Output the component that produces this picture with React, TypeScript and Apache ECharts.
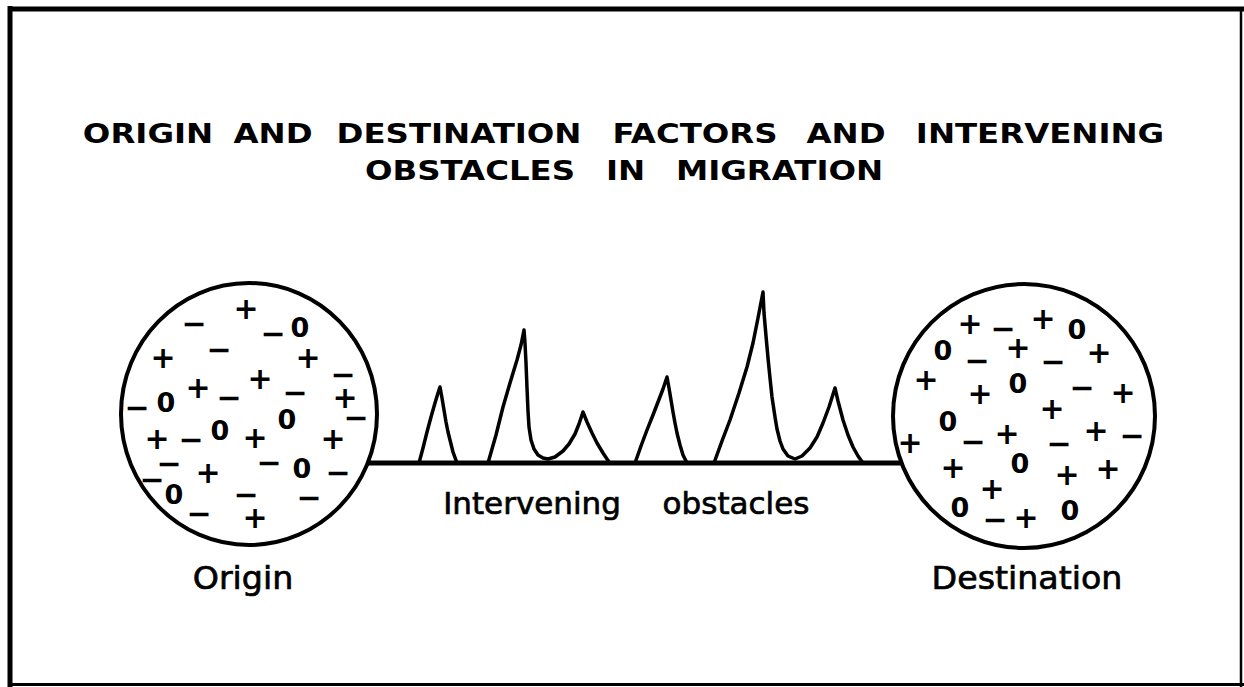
import React, { useEffect, useRef } from "react";
import * as echarts from "echarts";

// Diagram units: x = distance along the migration path, y = elevation above the path line.
const pathLine: number[][] = [[362, 0], [902, 0]];

// Obstacles (distance, elevation)
const obstacleA: number[][] = [
  [419, 0], [423, 15], [427, 31], [431, 46], [435, 60], [438, 70], [440, 76],
  [442, 65], [444, 53], [446, 41], [448, 31], [450, 23], [453, 11], [457, 0],
];
const obstacleB: number[][] = [
  [488, 0], [496, 28], [503, 56], [510, 80], [517, 103], [521, 118], [524, 133],
  [525, 120], [526, 100], [527, 75], [528, 52], [529, 36], [531, 23], [534, 14], [538, 8],
  [543, 5], [548, 4], [555, 6], [563, 12], [569, 19], [575, 29], [579, 39], [583, 51],
  [587, 41], [592, 30], [597, 20], [603, 10], [607, 4], [610, 0],
];
const obstacleC: number[][] = [
  [635, 0], [641, 17], [647, 33], [653, 48], [658, 61], [663, 74], [667, 86],
  [669, 75], [671, 63], [673, 51], [675, 40], [677, 30], [680, 18], [683, 8], [687, 0],
];
const obstacleD: number[][] = [
  [714, 0], [722, 22], [730, 43], [739, 70], [747, 96], [753, 120], [758, 145], [763, 171],
  [764, 150], [766, 127], [768, 105], [770, 85], [772, 66], [775, 46], [777, 34], [780, 22],
  [783, 14], [788, 7], [795, 4], [802, 7], [810, 15], [817, 26], [823, 40], [829, 56], [835, 75],
  [838, 62], [843, 43], [848, 28], [853, 16], [858, 7], [863, 0],
];

// Areas: [centre distance, centre elevation, half width, half height]
const areaNames = ["Origin", "Destination"];
const areas: number[][] = [[249, 49, 128, 131], [1024, 47, 131, 132]];

// Factors inside the areas (distance, elevation)
const originPlus: number[][] = [
  [246, 155], [163, 106], [308, 106], [260, 85], [198, 76], [345, 66], [157, 25], [255, 26], [333, 25], [208, -9], [255, -54],
];
const originMinus: number[][] = [
  [194, 140], [273, 130], [219, 114], [343, 89], [229, 66], [295, 71], [137, 56], [356, 46], [191, 24],
  [169, 0], [269, 1], [152, -16], [338, -9], [246, -31], [199, -50], [309, -34],
];
const originZero: number[][] = [[300, 136], [166, 61], [287, 44], [220, 33], [302, -5], [174, -31]];

const destPlus: number[][] = [
  [970, 140], [1043, 145], [1018, 116], [1099, 111], [926, 84], [980, 70], [1123, 71], [1052, 55],
  [1007, 30], [1096, 33], [910, 21], [953, -4], [1067, -11], [1108, -5], [992, -25], [1026, -54],
];
const destMinus: number[][] = [[1003, 135], [977, 103], [1053, 102], [1082, 76], [973, 22], [1059, 20], [1132, 28], [995, -56]];
const destZero: number[][] = [[1077, 134], [943, 113], [1018, 80], [948, 42], [1020, 0], [960, -44], [1070, -47]];

const titleLine1 = ["ORIGIN", "AND", "DESTINATION", "FACTORS", "AND", "INTERVENING"];
const titleLine2 = ["OBSTACLES", "IN", "MIGRATION"];
const pathLabel = ["Intervening", "obstacles"];

const FONT = '"DejaVu Sans", "Noto Sans", sans-serif';

function textEl(text: string, x: number, y: number, font: string, scaleX = 1, strokeW = 0) {
  return {
    type: "text",
    x,
    y,
    scaleX,
    silent: true,
    style: {
      text,
      x: 0,
      y: 0,
      font,
      fill: "#000",
      stroke: strokeW > 0 ? "#000" : undefined,
      lineWidth: strokeW,
      align: "center",
      verticalAlign: "middle",
      textAlign: "center",
      textVerticalAlign: "middle",
    },
  };
}

function factorSeries(data: number[][], ch: string) {
  return {
    type: "custom",
    coordinateSystem: "cartesian2d",
    data,
    z: 5,
    silent: true,
    renderItem: (_p: any, api: any) => {
      const c = api.coord([api.value(0), api.value(1)]);
      return textEl(ch, c[0], c[1], (ch === "0" ? "bold 27px " : "bold 30px ") + FONT);
    },
  };
}

function obstacleSeries(data: number[][], width: number) {
  return {
    type: "line",
    data,
    symbol: "none",
    silent: true,
    z: 2,
    lineStyle: { color: "#000", width, cap: "round", join: "round" },
  };
}

export default function App() {
  const ref = useRef<HTMLDivElement>(null);
  useEffect(() => {
    if (!ref.current) return;
    const chart = echarts.init(ref.current, undefined, { renderer: "svg" });
    const l1x = [148, 273, 459, 695, 846, 1040];
    const l2x = [470, 625.5, 779.5];
    const graphic: any[] = [];
    titleLine1.forEach((w, i) => graphic.push(textEl(w, l1x[i], 133, "bold 27px " + FONT, 1.2)));
    titleLine2.forEach((w, i) => graphic.push(textEl(w, l2x[i], 170, "bold 27px " + FONT, 1.2)));
    graphic.push(textEl(pathLabel[0], 532, 503, "31px " + FONT, 1, 0.7));
    graphic.push(textEl(pathLabel[1], 736, 503, "31px " + FONT, 1, 0.7));
    graphic.push(textEl(areaNames[0], 243, 578, "32px " + FONT, 1.04, 0.7));
    graphic.push(textEl(areaNames[1], 1027, 578, "32px " + FONT, 1.04, 0.7));
    // frame
    const frame = (x1: number, y1: number, x2: number, y2: number, w: number) => ({
      type: "line",
      silent: true,
      shape: { x1, y1, x2, y2 },
      style: { stroke: "#000", lineWidth: w },
    });
    graphic.push(frame(10, 6, 10, 687, 5));
    graphic.push(frame(8, 9, 1244, 9, 5));
    graphic.push(frame(1241, 9, 1241, 687, 2.5));
    graphic.push(frame(8, 684.5, 1244, 684.5, 3));

    chart.setOption({
      animation: false,
      backgroundColor: "#fff",
      grid: { left: 0, right: 0, top: 0, bottom: 0, containLabel: false },
      xAxis: { type: "value", min: 0, max: 1244, show: false },
      yAxis: { type: "value", min: -224, max: 463, show: false },
      graphic,
      series: [
        obstacleSeries(pathLine, 5),
        obstacleSeries(obstacleA, 3.5),
        obstacleSeries(obstacleB, 3.5),
        obstacleSeries(obstacleC, 3.5),
        obstacleSeries(obstacleD, 3.5),
        {
          type: "custom",
          coordinateSystem: "cartesian2d",
          data: areas,
          z: 4,
          silent: true,
          renderItem: (_p: any, api: any) => {
            const c = api.coord([api.value(0), api.value(1)]);
            const s = api.size([api.value(2), api.value(3)]);
            return {
              type: "ellipse",
              shape: { cx: c[0], cy: c[1], rx: s[0], ry: s[1] },
              style: { fill: "#fff", stroke: "#000", lineWidth: 4 },
            };
          },
        },
        factorSeries(originPlus, "+"),
        factorSeries(originMinus, "\u2212"),
        factorSeries(originZero, "0"),
        factorSeries(destPlus, "+"),
        factorSeries(destMinus, "\u2212"),
        factorSeries(destZero, "0"),
      ],
    });
    return () => chart.dispose();
  }, []);
  return (
    <div
      ref={ref}
      style={{ position: "fixed", left: 0, top: 0, width: 1244, height: 687, background: "#fff" }}
    />
  );
}
